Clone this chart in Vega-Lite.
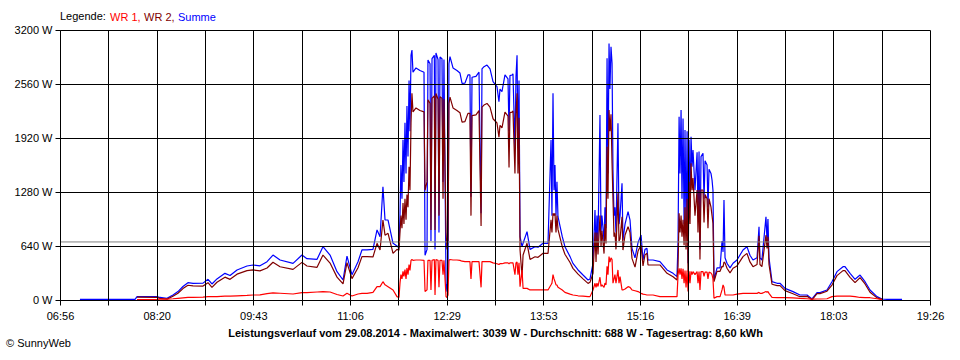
{
"$schema": "https://vega.github.io/schema/vega-lite/v6.json",
"width": 870, "height": 270,
"autosize": {"type": "none"},
"padding": {"left": 60, "top": 30, "right": 30, "bottom": 60},
"background": "white",
"config": {"view": {"stroke": null}, "font": "Liberation Sans",
  "axis": {"grid": true, "gridColor": "#000000", "gridOpacity": 1, "gridWidth": 1, "tickColor": "#000000", "tickSize": 5, "domainColor": "#000000", "labelColor": "#000000", "labelFont": "Liberation Sans", "labelFontSize": 11, "titleColor": "#000000", "titleFont": "Liberation Sans"}},
"title": {"text": "© SunnyWeb", "orient": "bottom", "anchor": "start", "frame": "bounds", "dx": -8, "offset": 0, "fontSize": 11, "fontWeight": "normal", "color": "#000000", "font": "Liberation Sans"},
"data": {"values": [
{"t":433.2,"wr1":null,"wr2":null,"summe":8},
{"t":480.7,"wr1":null,"wr2":null,"summe":8},
{"t":482.4,"wr1":5,"wr2":35,"summe":40},
{"t":499.6,"wr1":8,"wr2":32,"summe":40},
{"t":502.2,"wr1":10,"wr2":20,"summe":30},
{"t":508.2,"wr1":10,"wr2":10,"summe":20},
{"t":513.4,"wr1":15,"wr2":45,"summe":60},
{"t":517.7,"wr1":20,"wr2":80,"summe":100},
{"t":522.0,"wr1":25,"wr2":135,"summe":160},
{"t":526.3,"wr1":30,"wr2":175,"summe":205},
{"t":530.7,"wr1":30,"wr2":168,"summe":198},
{"t":539.3,"wr1":35,"wr2":165,"summe":200},
{"t":543.6,"wr1":40,"wr2":205,"summe":245},
{"t":547.0,"wr1":40,"wr2":150,"summe":190},
{"t":551.3,"wr1":40,"wr2":210,"summe":250},
{"t":558.2,"wr1":45,"wr2":271,"summe":316},
{"t":562.6,"wr1":45,"wr2":245,"summe":290},
{"t":568.6,"wr1":50,"wr2":306,"summe":356},
{"t":577.2,"wr1":55,"wr2":348,"summe":403},
{"t":582.4,"wr1":59,"wr2":356,"summe":415},
{"t":588.4,"wr1":60,"wr2":345,"summe":405},
{"t":594.5,"wr1":75,"wr2":379,"summe":454},
{"t":599.6,"wr1":85,"wr2":448,"summe":533},
{"t":605.7,"wr1":80,"wr2":394,"summe":474},
{"t":616.9,"wr1":71,"wr2":363,"summe":434},
{"t":624.6,"wr1":87,"wr2":446,"summe":533},
{"t":628.9,"wr1":87,"wr2":403,"summe":490},
{"t":637.6,"wr1":95,"wr2":387,"summe":482},
{"t":642.7,"wr1":99,"wr2":533,"summe":632},
{"t":648.8,"wr1":95,"wr2":438,"summe":533},
{"t":654.8,"wr1":65,"wr2":271,"summe":336},
{"t":660.0,"wr1":47,"wr2":190,"summe":237},
{"t":663.4,"wr1":79,"wr2":442,"summe":521},
{"t":667.7,"wr1":47,"wr2":253,"summe":300},
{"t":672.9,"wr1":71,"wr2":383,"summe":454},
{"t":676.3,"wr1":79,"wr2":514,"summe":593},
{"t":680.7,"wr1":79,"wr2":514,"summe":593},
{"t":685.8,"wr1":90,"wr2":510,"summe":600},
{"t":689.3,"wr1":158,"wr2":672,"summe":830},
{"t":691.9,"wr1":158,"wr2":592,"summe":750},
{"t":694.4,"wr1":217,"wr2":948,"summe":1343},
{"t":696.2,"wr1":180,"wr2":768,"summe":948},
{"t":698.8,"wr1":158,"wr2":790,"summe":948},
{"t":703.1,"wr1":119,"wr2":553,"summe":672},
{"t":706.5,"wr1":40,"wr2":600,"summe":640},
{"t":708.2,"wr1":30,"wr2":590,"summe":620},
{"t":709.1,"wr1":200,"wr2":800,"summe":1000},
{"t":709.9,"wr1":300,"wr2":1000,"summe":1600},
{"t":710.8,"wr1":250,"wr2":850,"summe":1200},
{"t":711.7,"wr1":340,"wr2":1150,"summe":1900},
{"t":712.5,"wr1":280,"wr2":900,"summe":1400},
{"t":713.4,"wr1":360,"wr2":1200,"summe":2100},
{"t":714.3,"wr1":250,"wr2":950,"summe":1500},
{"t":715.1,"wr1":380,"wr2":1250,"summe":2300},
{"t":716.0,"wr1":300,"wr2":1100,"summe":1700},
{"t":716.9,"wr1":420,"wr2":1580,"summe":2600},
{"t":717.7,"wr1":350,"wr2":1300,"summe":2000},
{"t":718.6,"wr1":470,"wr2":2100,"summe":2900},
{"t":719.4,"wr1":480,"wr2":2450,"summe":2963},
{"t":720.3,"wr1":470,"wr2":2230,"summe":2700},
{"t":722.9,"wr1":474,"wr2":2276,"summe":2750},
{"t":726.3,"wr1":474,"wr2":2246,"summe":2720},
{"t":729.8,"wr1":470,"wr2":2230,"summe":2700},
{"t":730.7,"wr1":100,"wr2":1300,"summe":530},
{"t":732.4,"wr1":120,"wr2":1400,"summe":600},
{"t":733.2,"wr1":470,"wr2":2374,"summe":2844},
{"t":735.0,"wr1":470,"wr2":2330,"summe":2800},
{"t":735.8,"wr1":120,"wr2":830,"summe":700},
{"t":736.7,"wr1":470,"wr2":2390,"summe":2860},
{"t":738.7,"wr1":480,"wr2":2420,"summe":2900},
{"t":739.3,"wr1":60,"wr2":830,"summe":600},
{"t":740.1,"wr1":480,"wr2":2447,"summe":2927},
{"t":741.9,"wr1":470,"wr2":2380,"summe":2850},
{"t":742.7,"wr1":150,"wr2":1000,"summe":800},
{"t":743.6,"wr1":470,"wr2":2410,"summe":2880},
{"t":745.3,"wr1":470,"wr2":2390,"summe":2860},
{"t":746.2,"wr1":300,"wr2":1200,"summe":1400},
{"t":747.0,"wr1":470,"wr2":2380,"summe":2850},
{"t":748.8,"wr1":40,"wr2":800,"summe":200},
{"t":749.6,"wr1":30,"wr2":600,"summe":100},
{"t":750.5,"wr1":60,"wr2":700,"summe":300},
{"t":751.3,"wr1":470,"wr2":2330,"summe":2800},
{"t":752.2,"wr1":480,"wr2":2404,"summe":2884},
{"t":754.8,"wr1":474,"wr2":2276,"summe":2750},
{"t":758.2,"wr1":474,"wr2":2246,"summe":2720},
{"t":760.8,"wr1":470,"wr2":2220,"summe":2690},
{"t":762.6,"wr1":460,"wr2":2108,"summe":2568},
{"t":765.1,"wr1":455,"wr2":2115,"summe":2570},
{"t":767.7,"wr1":455,"wr2":2212,"summe":2667},
{"t":769.4,"wr1":455,"wr2":2212,"summe":2667},
{"t":770.3,"wr1":250,"wr2":1000,"summe":1225},
{"t":771.2,"wr1":455,"wr2":2185,"summe":2640},
{"t":774.6,"wr1":455,"wr2":2195,"summe":2650},
{"t":777.2,"wr1":455,"wr2":2245,"summe":2700},
{"t":779.0,"wr1":150,"wr2":877,"summe":1027},
{"t":779.8,"wr1":455,"wr2":2285,"summe":2740},
{"t":781.5,"wr1":455,"wr2":2310,"summe":2765},
{"t":784.1,"wr1":455,"wr2":2330,"summe":2785},
{"t":786.7,"wr1":455,"wr2":2285,"summe":2740},
{"t":789.3,"wr1":440,"wr2":2148,"summe":2588},
{"t":792.7,"wr1":430,"wr2":2098,"summe":2528},
{"t":794.4,"wr1":420,"wr2":1930,"summe":2350},
{"t":795.3,"wr1":430,"wr2":2070,"summe":2500},
{"t":797.0,"wr1":430,"wr2":2039,"summe":2469},
{"t":799.6,"wr1":440,"wr2":2227,"summe":2667},
{"t":802.2,"wr1":440,"wr2":2180,"summe":2620},
{"t":803.1,"wr1":430,"wr2":1570,"summe":2000},
{"t":803.9,"wr1":440,"wr2":2220,"summe":2660},
{"t":805.7,"wr1":440,"wr2":2227,"summe":2667},
{"t":806.5,"wr1":440,"wr2":2240,"summe":2680},
{"t":808.2,"wr1":300,"wr2":1500,"summe":1800},
{"t":809.1,"wr1":440,"wr2":2210,"summe":2650},
{"t":810.0,"wr1":450,"wr2":2450,"summe":2900},
{"t":810.8,"wr1":300,"wr2":1500,"summe":1800},
{"t":811.7,"wr1":440,"wr2":2160,"summe":2600},
{"t":812.6,"wr1":158,"wr2":592,"summe":750},
{"t":814.3,"wr1":356,"wr2":276,"summe":632},
{"t":815.2,"wr1":138,"wr2":534,"summe":672},
{"t":818.6,"wr1":138,"wr2":672,"summe":810},
{"t":821.2,"wr1":119,"wr2":481,"summe":600},
{"t":825.5,"wr1":119,"wr2":513,"summe":632},
{"t":828.1,"wr1":119,"wr2":506,"summe":625},
{"t":832.4,"wr1":119,"wr2":553,"summe":672},
{"t":836.7,"wr1":119,"wr2":553,"summe":672},
{"t":839.3,"wr1":180,"wr2":950,"summe":1896},
{"t":840.1,"wr1":200,"wr2":800,"summe":1000},
{"t":841.0,"wr1":300,"wr2":1027,"summe":2450},
{"t":841.9,"wr1":250,"wr2":1000,"summe":1300},
{"t":842.7,"wr1":220,"wr2":1027,"summe":1600},
{"t":843.6,"wr1":180,"wr2":800,"summe":1000},
{"t":844.4,"wr1":178,"wr2":1000,"summe":1402},
{"t":845.3,"wr1":150,"wr2":837,"summe":987},
{"t":849.0,"wr1":119,"wr2":631,"summe":750},
{"t":851.3,"wr1":90,"wr2":542,"summe":632},
{"t":855.7,"wr1":70,"wr2":444,"summe":514},
{"t":858.2,"wr1":59,"wr2":375,"summe":434},
{"t":862.6,"wr1":50,"wr2":306,"summe":356},
{"t":866.9,"wr1":45,"wr2":251,"summe":296},
{"t":871.2,"wr1":40,"wr2":197,"summe":237},
{"t":872.9,"wr1":40,"wr2":210,"summe":250},
{"t":875.5,"wr1":119,"wr2":315,"summe":434},
{"t":877.2,"wr1":198,"wr2":800,"summe":1067},
{"t":878.1,"wr1":150,"wr2":450,"summe":600},
{"t":878.9,"wr1":200,"wr2":800,"summe":1000},
{"t":879.8,"wr1":160,"wr2":540,"summe":700},
{"t":881.5,"wr1":270,"wr2":1000,"summe":2193},
{"t":882.4,"wr1":160,"wr2":640,"summe":800},
{"t":883.2,"wr1":180,"wr2":820,"summe":1000},
{"t":885.0,"wr1":150,"wr2":550,"summe":700},
{"t":885.8,"wr1":200,"wr2":900,"summe":1100},
{"t":886.7,"wr1":180,"wr2":670,"summe":850},
{"t":887.6,"wr1":400,"wr2":1817,"summe":2864},
{"t":888.4,"wr1":300,"wr2":1200,"summe":1500},
{"t":889.3,"wr1":514,"wr2":2252,"summe":3039},
{"t":890.1,"wr1":450,"wr2":2000,"summe":2500},
{"t":891.0,"wr1":500,"wr2":2200,"summe":3000},
{"t":891.9,"wr1":480,"wr2":1620,"summe":2805},
{"t":892.7,"wr1":200,"wr2":1200,"summe":1540},
{"t":893.6,"wr1":250,"wr2":750,"summe":1000},
{"t":894.4,"wr1":300,"wr2":800,"summe":1100},
{"t":895.3,"wr1":200,"wr2":600,"summe":800},
{"t":897.0,"wr1":356,"wr2":1264,"summe":2094},
{"t":897.9,"wr1":200,"wr2":700,"summe":900},
{"t":898.8,"wr1":277,"wr2":723,"summe":1000},
{"t":900.5,"wr1":119,"wr2":987,"summe":1383},
{"t":901.3,"wr1":119,"wr2":592,"summe":711},
{"t":903.1,"wr1":130,"wr2":770,"summe":900},
{"t":905.7,"wr1":158,"wr2":869,"summe":1047},
{"t":907.4,"wr1":150,"wr2":798,"summe":948},
{"t":909.1,"wr1":119,"wr2":493,"summe":612},
{"t":911.7,"wr1":110,"wr2":390,"summe":500},
{"t":914.3,"wr1":100,"wr2":580,"summe":680},
{"t":916.9,"wr1":79,"wr2":650,"summe":770},
{"t":918.6,"wr1":70,"wr2":404,"summe":474},
{"t":920.3,"wr1":65,"wr2":535,"summe":600},
{"t":922.0,"wr1":59,"wr2":553,"summe":612},
{"t":922.9,"wr1":59,"wr2":415,"summe":474},
{"t":927.2,"wr1":59,"wr2":415,"summe":474},
{"t":933.2,"wr1":40,"wr2":415,"summe":455},
{"t":939.3,"wr1":40,"wr2":316,"summe":356},
{"t":944.5,"wr1":40,"wr2":276,"summe":316},
{"t":947.9,"wr1":40,"wr2":237,"summe":277},
{"t":948.8,"wr1":300,"wr2":400,"summe":700},
{"t":949.7,"wr1":375,"wr2":1027,"summe":2173},
{"t":950.5,"wr1":300,"wr2":800,"summe":1500},
{"t":951.4,"wr1":375,"wr2":1000,"summe":2252},
{"t":952.2,"wr1":250,"wr2":750,"summe":1200},
{"t":953.1,"wr1":370,"wr2":950,"summe":2150},
{"t":954.0,"wr1":200,"wr2":650,"summe":900},
{"t":954.8,"wr1":350,"wr2":1100,"summe":2015},
{"t":955.7,"wr1":150,"wr2":600,"summe":800},
{"t":956.6,"wr1":350,"wr2":1200,"summe":2000},
{"t":957.4,"wr1":100,"wr2":335,"summe":435},
{"t":958.3,"wr1":340,"wr2":1400,"summe":1900},
{"t":959.1,"wr1":200,"wr2":900,"summe":1100},
{"t":960.0,"wr1":340,"wr2":1620,"summe":1935},
{"t":960.9,"wr1":300,"wr2":1300,"summe":1580},
{"t":961.7,"wr1":336,"wr2":1446,"summe":1778},
{"t":963.4,"wr1":300,"wr2":1000,"summe":1300},
{"t":965.2,"wr1":336,"wr2":1304,"summe":1750},
{"t":966.0,"wr1":200,"wr2":800,"summe":1000},
{"t":966.9,"wr1":336,"wr2":1304,"summe":1760},
{"t":967.7,"wr1":119,"wr2":481,"summe":600},
{"t":968.6,"wr1":336,"wr2":1304,"summe":1700},
{"t":970.3,"wr1":336,"wr2":1304,"summe":1738},
{"t":971.2,"wr1":280,"wr2":920,"summe":1200},
{"t":972.1,"wr1":330,"wr2":1250,"summe":1650},
{"t":973.8,"wr1":330,"wr2":1200,"summe":1600},
{"t":974.6,"wr1":250,"wr2":850,"summe":1100},
{"t":975.5,"wr1":330,"wr2":1200,"summe":1550},
{"t":977.2,"wr1":320,"wr2":1100,"summe":1500},
{"t":978.1,"wr1":300,"wr2":1000,"summe":1422},
{"t":978.9,"wr1":250,"wr2":908,"summe":1300},
{"t":979.8,"wr1":20,"wr2":217,"summe":237},
{"t":982.4,"wr1":40,"wr2":340,"summe":380},
{"t":985.0,"wr1":40,"wr2":340,"summe":380},
{"t":986.7,"wr1":120,"wr2":400,"summe":700},
{"t":987.6,"wr1":178,"wr2":392,"summe":570},
{"t":988.4,"wr1":150,"wr2":450,"summe":1185},
{"t":989.3,"wr1":60,"wr2":440,"summe":500},
{"t":991.0,"wr1":59,"wr2":376,"summe":435},
{"t":993.6,"wr1":59,"wr2":321,"summe":380},
{"t":996.2,"wr1":59,"wr2":376,"summe":435},
{"t":999.6,"wr1":70,"wr2":404,"summe":474},
{"t":1004.8,"wr1":79,"wr2":514,"summe":593},
{"t":1008.2,"wr1":79,"wr2":553,"summe":632},
{"t":1010.8,"wr1":79,"wr2":451,"summe":530},
{"t":1013.4,"wr1":79,"wr2":395,"summe":474},
{"t":1016.9,"wr1":79,"wr2":421,"summe":500},
{"t":1018.6,"wr1":90,"wr2":760,"summe":869},
{"t":1019.4,"wr1":79,"wr2":421,"summe":500},
{"t":1021.1,"wr1":79,"wr2":395,"summe":474},
{"t":1024.6,"wr1":100,"wr2":770,"summe":987},
{"t":1025.5,"wr1":90,"wr2":610,"summe":700},
{"t":1026.3,"wr1":100,"wr2":750,"summe":960},
{"t":1027.2,"wr1":79,"wr2":421,"summe":500},
{"t":1029.8,"wr1":30,"wr2":187,"summe":217},
{"t":1034.2,"wr1":27,"wr2":171,"summe":198},
{"t":1036.7,"wr1":27,"wr2":171,"summe":198},
{"t":1041.0,"wr1":27,"wr2":111,"summe":138},
{"t":1047.9,"wr1":25,"wr2":74,"summe":99},
{"t":1053.9,"wr1":20,"wr2":39,"summe":59},
{"t":1060.0,"wr1":15,"wr2":44,"summe":59},
{"t":1064.3,"wr1":10,"wr2":2,"summe":12},
{"t":1068.6,"wr1":12,"wr2":75,"summe":87},
{"t":1071.2,"wr1":12,"wr2":75,"summe":87},
{"t":1077.2,"wr1":15,"wr2":104,"summe":119},
{"t":1081.5,"wr1":40,"wr2":177,"summe":217},
{"t":1085.8,"wr1":47,"wr2":289,"summe":336},
{"t":1091.0,"wr1":47,"wr2":348,"summe":395},
{"t":1092.7,"wr1":47,"wr2":348,"summe":395},
{"t":1097.1,"wr1":47,"wr2":269,"summe":316},
{"t":1101.4,"wr1":40,"wr2":205,"summe":245},
{"t":1105.7,"wr1":30,"wr2":266,"summe":296},
{"t":1110.0,"wr1":27,"wr2":190,"summe":217},
{"t":1114.3,"wr1":27,"wr2":92,"summe":119},
{"t":1120.3,"wr1":15,"wr2":25,"summe":40},
{"t":1124.6,"wr1":5,"wr2":7,"summe":12},
{"t":1128.9,"wr1":null,"wr2":null,"summe":8},
{"t":1141.9,"wr1":null,"wr2":null,"summe":8}
]},
"layer": [
 {"encoding": {
  "x": {"field": "t", "type": "quantitative",
    "scale": {"domain": [416, 1166], "nice": false, "zero": false},
    "axis": {"values": [416, 457.667, 499.333, 541, 582.667, 624.333, 666, 707.667, 749.333, 791, 832.667, 874.333, 916, 957.667, 999.333, 1041, 1082.667, 1124.333, 1166],
      "labelExpr": "['06:56','','08:20','','09:43','','11:06','','12:29','','13:53','','15:16','','16:39','','18:03','','19:26'][round((datum.value-416)/41.6667)]",
      "labelFlush": false, "labelOverlap": false, "labelBound": false, "labelPadding": 5,
      "title": "Leistungsverlauf vom 29.08.2014 - Maximalwert: 3039 W - Durchschnitt: 688 W - Tagesertrag: 8,60 kWh",
      "titleFontWeight": "bold", "titleFontSize": 11, "titlePadding": 6, "zindex": 1}}
  },
  "layer": [
  {"mark": {"type": "line", "strokeWidth": 1.2, "strokeJoin": "bevel"},
   "encoding": {
     "y": {"field": "summe", "type": "quantitative", "scale": {"domain": [0, 3200], "nice": false, "zero": true},
       "axis": {"values": [0, 640, 1280, 1920, 2560, 3200], "labelExpr": "datum.value + ' W'", "labelPadding": 3, "zindex": 1}, "title": null},
     "color": {"datum": "Summe", "type": "nominal",
       "scale": {"domain": ["WR 1", "WR 2", "Summe"], "range": ["#ff0000", "#800000", "#0000ff"]},
       "legend": {"title": "Legende:", "orient": "top", "direction": "horizontal", "titleOrient": "left", "titleFontWeight": "normal", "titleFontSize": 11, "titleFont": "Liberation Sans", "titleColor": "#000000", "titlePadding": 5,
         "labelFontSize": 11, "labelFont": "Liberation Sans", "labelExpr": "datum.label == 'Summe' ? datum.label : datum.label + ','",
         "labelColor": {"expr": "datum.value == 'WR 1' ? '#ff0000' : datum.value == 'WR 2' ? '#800000' : '#0000ff'"},
         "symbolSize": 0, "symbolStrokeWidth": 0, "symbolOpacity": 0, "labelOffset": -12, "columnPadding": 3, "offset": 7, "padding": 0}}
   }},
  {"mark": {"type": "line", "strokeWidth": 1.2, "strokeJoin": "bevel"},
   "encoding": {
     "y": {"field": "wr2", "type": "quantitative", "scale": {"domain": [0, 3200], "nice": false, "zero": true}, "title": null},
     "color": {"datum": "WR 2", "type": "nominal", "scale": {"domain": ["WR 1", "WR 2", "Summe"], "range": ["#ff0000", "#800000", "#0000ff"]}}
   }},
  {"mark": {"type": "line", "strokeWidth": 1.2, "strokeJoin": "bevel"},
   "encoding": {
     "y": {"field": "wr1", "type": "quantitative", "scale": {"domain": [0, 3200], "nice": false, "zero": true}, "title": null},
     "color": {"datum": "WR 1", "type": "nominal", "scale": {"domain": ["WR 1", "WR 2", "Summe"], "range": ["#ff0000", "#800000", "#0000ff"]}}
   }}
  ]
 },
 {"data": {"values": [{"avg": 688}]},
  "mark": {"type": "rule", "color": "#808080", "strokeWidth": 1},
  "encoding": {"y": {"field": "avg", "type": "quantitative", "scale": {"domain": [0, 3200], "nice": false, "zero": true}, "title": null}}}
]
}
